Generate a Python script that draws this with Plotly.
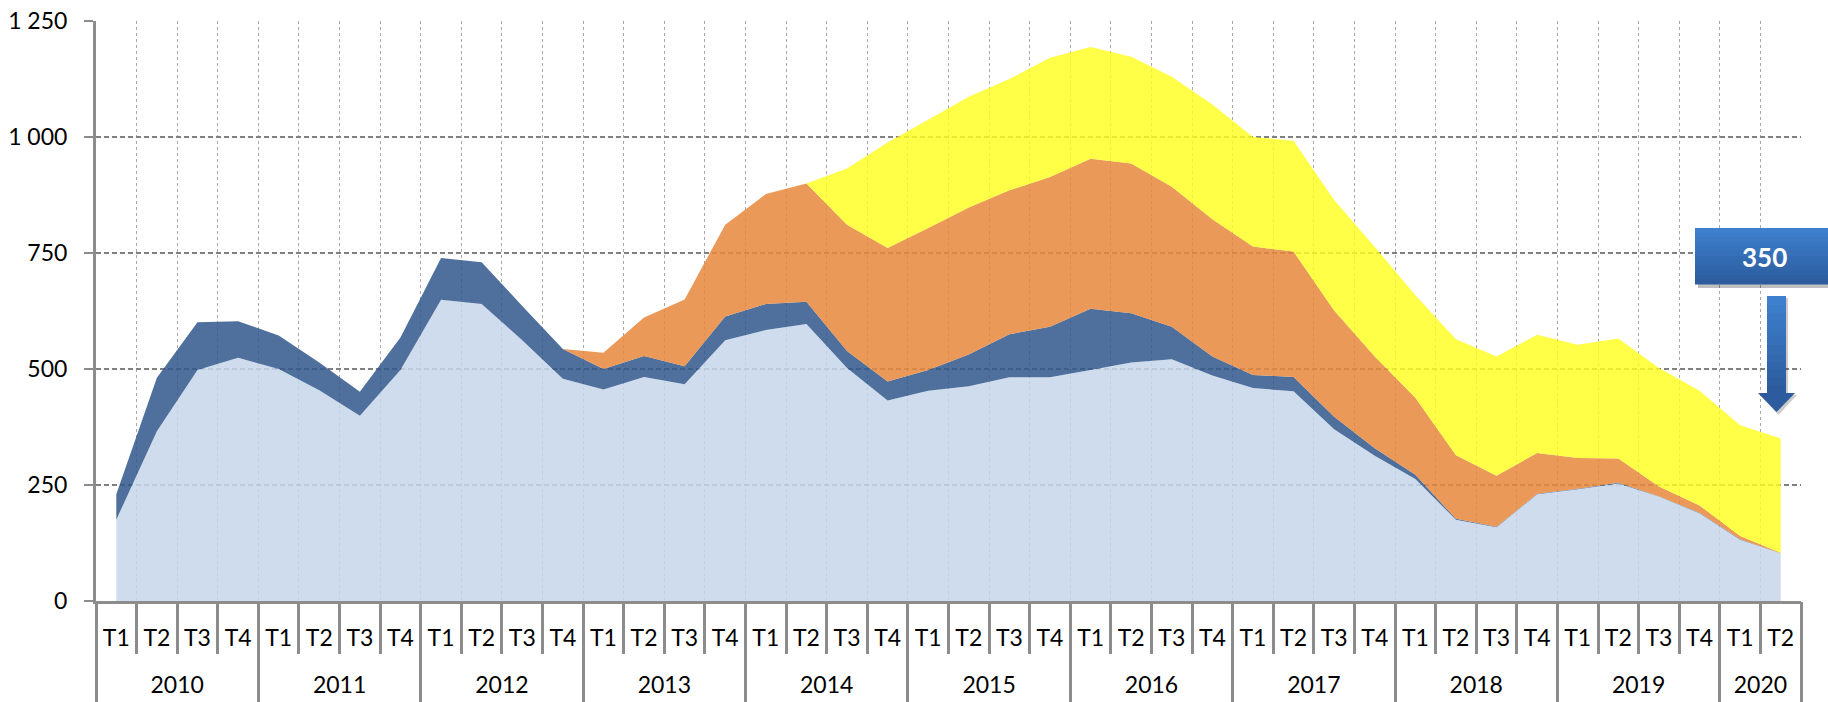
import plotly.graph_objects as go

# ---------------- data ----------------
years = ["2010", "2011", "2012", "2013", "2014", "2015", "2016", "2017", "2018", "2019", "2020"]
quarters = ["T1", "T2", "T3", "T4"]
quarters_per_year = [4, 4, 4, 4, 4, 4, 4, 4, 4, 4, 2]

series_light = [175, 366, 498, 524, 500, 454, 399, 498, 649, 640, 562, 479, 456, 483, 467, 562,
                584, 597, 502, 432, 453, 463, 482, 482, 498, 514, 521, 486, 459, 452, 370, 313,
                263, 175, 159, 230, 241, 253, 225, 189, 132, 103]
series_dark = [55, 115, 103, 79, 72, 60, 52, 70, 90, 90, 74, 64, 44, 45, 39, 51,
               56, 48, 37, 41, 45, 68, 93, 109, 132, 106, 70, 41, 28, 31, 27, 16,
               9, 2, 1, 1, 1, 2, 1, 1, 1, 0]
series_orange = [0, 0, 0, 0, 0, 0, 0, 0, 0, 0, 0, 0, 35, 83, 144, 198,
                 237, 255, 272, 288, 306, 317, 310, 323, 323, 323, 302, 296, 277, 270, 229, 198,
                 166, 137, 110, 88, 66, 52, 21, 16, 7, 1]
series_yellow = [0, 0, 0, 0, 0, 0, 0, 0, 0, 0, 0, 0, 0, 0, 0, 0,
                 0, 0, 121, 227, 233, 239, 240, 257, 241, 230, 237, 247, 236, 239, 238, 236,
                 221, 250, 257, 255, 244, 259, 255, 247, 239, 246]

y_ticks = [0, 250, 500, 750, 1000, 1250]

# ---------------- categories -> positions on the axis ----------------
x_quarter = []
year_centers, year_bounds = [], [-0.5]
idx = 0
for yr, n in zip(years, quarters_per_year):
    x_quarter.extend(quarters[:n])
    year_centers.append(idx + (n - 1) / 2)
    idx += n
    year_bounds.append(idx - 0.5)
n_cat = len(x_quarter)
x_pos = list(range(n_cat))
quarter_bounds = [i - 0.5 for i in range(n_cat + 1)]

FONT = "Lato"
AXIS_GREY = "#8c8c8c"
fig = go.Figure()

styles = [
    (series_light, "rgba(198,214,234,0.86)"),
    (series_dark, "rgba(50,88,140,0.86)"),
    (series_orange, "rgba(232,136,60,0.86)"),
    (series_yellow, "rgba(255,255,30,0.82)"),
]
for vals, col in styles:
    fig.add_trace(go.Scatter(
        x=x_pos, y=vals, mode="lines", stackgroup="one",
        line=dict(width=0, color=col), fillcolor=col,
        hoverinfo="skip", showlegend=False,
    ))
# empty trace so the year axis is rendered
fig.add_trace(go.Scatter(x=[], y=[], xaxis="x2", showlegend=False, hoverinfo="skip"))

# ---------------- layout ----------------
W, H = 1828, 702
L, R, T, B = 96, 27, 21, 101


def px(xp):
    return (xp - L) / (W - L - R)


def py(yp):
    return (H - B - yp) / (H - T - B)


shapes = []
shapes.append(dict(type="rect", xref="paper", yref="paper", layer="above",
                   x0=px(1698), x1=px(1832), y0=py(288), y1=py(231),
                   fillcolor="rgba(0,0,0,0.25)", line=dict(width=0)))
top_c = (62, 128, 206)
bot_c = (44, 92, 158)
nb = 12
y_top, y_bot = 228, 284
for i in range(nb):
    t = i / (nb - 1)
    c = tuple(int(round(top_c[k] + (bot_c[k] - top_c[k]) * t)) for k in range(3))
    y0 = y_top + (y_bot - y_top) * i / nb
    y1 = y_top + (y_bot - y_top) * (i + 1) / nb
    shapes.append(dict(type="rect", xref="paper", yref="paper", layer="above",
                       x0=px(1695), x1=px(1832), y0=py(y1 + 0.6), y1=py(y0),
                       fillcolor="rgb(%d,%d,%d)" % c, line=dict(width=0)))
shapes.append(dict(type="path", xref="paper", yref="paper", layer="above",
                   path="M %f %f L %f %f L %f %f L %f %f L %f %f L %f %f L %f %f Z" % (
                       px(1769), py(298), px(1788), py(298), px(1788), py(395),
                       px(1797), py(395), px(1778.5), py(415), px(1760), py(395),
                       px(1769), py(395)),
                   fillcolor="rgba(0,0,0,0.2)", line=dict(width=0)))
s_top, s_bot = 296, 394
nb2 = 12
for i in range(nb2):
    t = i / (nb2 - 1)
    c = tuple(int(round(top_c[k] + (bot_c[k] - top_c[k]) * t)) for k in range(3))
    y0 = s_top + (s_bot - s_top) * i / nb2
    y1 = s_top + (s_bot - s_top) * (i + 1) / nb2
    shapes.append(dict(type="rect", xref="paper", yref="paper", layer="above",
                       x0=px(1767), x1=px(1786), y0=py(y1 + 0.6), y1=py(y0),
                       fillcolor="rgb(%d,%d,%d)" % c, line=dict(width=0)))
shapes.append(dict(type="path", xref="paper", yref="paper", layer="above",
                   path="M %f %f L %f %f L %f %f Z" % (
                       px(1758), py(393), px(1795), py(393), px(1776.5), py(412)),
                   fillcolor="rgb(44,92,158)", line=dict(width=0)))

last_total = series_light[-1] + series_dark[-1] + series_orange[-1] + series_yellow[-1]

fig.update_layout(
    width=W, height=H,
    margin=dict(l=L, r=R, t=T, b=B, pad=0),
    paper_bgcolor="white", plot_bgcolor="white",
    separators=", ",
    showlegend=False,
    font=dict(family=FONT, size=23, color="black"),
    shapes=shapes,
    annotations=[dict(
        xref="paper", yref="paper", x=px(1764), y=py(257),
        text="<b>%d</b>" % last_total, showarrow=False,
        font=dict(family=FONT, size=26, color="white"),
        xanchor="center", yanchor="middle",
    )],
    xaxis=dict(
        range=[-0.5, n_cat - 0.5], automargin=False,
        tickmode="array", tickvals=x_pos, ticktext=x_quarter,
        ticks="", showgrid=False,
        ticklabelstandoff=14,
        showline=True, linecolor=AXIS_GREY, linewidth=3,
        tickfont=dict(family=FONT, size=23, color="black"),
        zeroline=False,
        minor=dict(tickmode="array", tickvals=quarter_bounds,
                   ticks="outside", ticklen=50, tickwidth=3, tickcolor=AXIS_GREY,
                   showgrid=True, gridcolor="#a8a8a8", gridwidth=1, griddash="dot"),
    ),
    xaxis2=dict(
        overlaying="x", anchor="y", side="bottom",
        range=[-0.5, n_cat - 0.5], automargin=False,
        tickmode="array", tickvals=year_centers, ticktext=years,
        ticks="", showgrid=False, showline=False, zeroline=False,
        ticklabelstandoff=68,
        tickfont=dict(family=FONT, size=23, color="black"),
        minor=dict(tickmode="array", tickvals=year_bounds,
                   ticks="outside", ticklen=101, tickwidth=3, tickcolor=AXIS_GREY,
                   showgrid=False),
    ),
    yaxis=dict(
        range=[0, 1250], automargin=False,
        tickvals=y_ticks, tickformat=",",
        ticks="outside", ticklen=9, tickwidth=2, tickcolor=AXIS_GREY,
        ticklabelstandoff=12,
        showline=True, linecolor=AXIS_GREY, linewidth=3,
        showgrid=True, gridcolor="#808080", gridwidth=1.5, griddash="5px,3px",
        zeroline=False,
        tickfont=dict(family=FONT, size=23, color="black"),
    ),
)

fig.write_html("out.html", config={"displayModeBar": False},
               post_script="document.body.style.margin='0';document.body.style.overflow='hidden';")
